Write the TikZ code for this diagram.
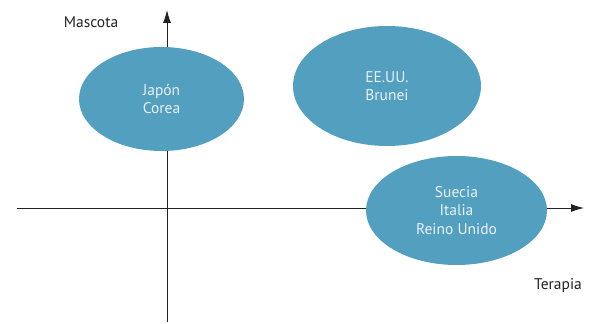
\documentclass[tikz,border=0pt]{standalone}
\usepackage{fontspec}
\setmainfont{PT Sans}
\usetikzlibrary{shapes.geometric,arrows.meta}
\definecolor{blob}{HTML}{529FC0}
\definecolor{blobtext}{HTML}{EAF2F7}
\definecolor{axis}{HTML}{222222}
\tikzset{
  blobnode/.style={ellipse, fill=blob, draw=none, inner sep=0pt, text=blobtext,
    align=center, font=\fontsize{15.5}{18.5}\selectfont},
  axisline/.style={draw=axis, line width=0.9pt, -{Latex[length=13pt,width=8pt]}},
  axlabel/.style={text=axis, font=\fontsize{15.5}{18}\selectfont, inner sep=0pt}
}
\begin{document}
\begin{tikzpicture}[x=1pt,y=1pt]
\useasboundingbox (0,0) rectangle (598,324);
% axes (y measured from bottom: 324 - pixel y)
\coordinate (vb) at (167,2);
\coordinate (vt) at (167,314);
\coordinate (hl) at (17,116);
\coordinate (hr) at (584,116);
\draw[axisline] (vb) -- (vt);
\draw[axisline] (hl) -- (hr);
% ellipses
\node[blobnode, minimum width=165pt, minimum height=104pt] (jap) at (161.5,225) {Japón\\Corea};
\node[blobnode, minimum width=188pt, minimum height=120pt] (usa) at (387,238) {EE.UU.\\Brunei};
\node[blobnode, minimum width=181pt, minimum height=109pt] (sue) at (456.5,113.5) {Suecia\\Italia\\Reino Unido};
% labels
\node[axlabel] (masc) at (91,302) {Mascota};
\node[axlabel] (ter) at (558,38) {Terapia};
\end{tikzpicture}
\end{document}
